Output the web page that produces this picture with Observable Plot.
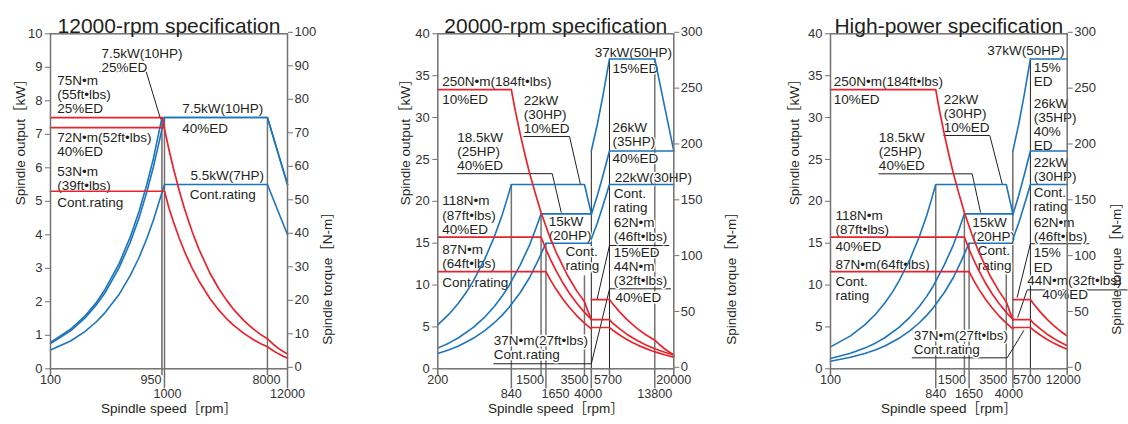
<!DOCTYPE html>
<html><head><meta charset="utf-8">
<script src="https://cdn.jsdelivr.net/npm/d3@7"></script>
<script src="https://cdn.jsdelivr.net/npm/@observablehq/plot@0.6"></script>
<style>
html,body{margin:0;padding:0;background:#fff}
#row{display:flex;width:1128px;height:424px}
#row svg{display:block;overflow:visible;flex:none}
</style></head><body><div id="row"></div>
<script>
// ---------- Panel 1: 12000-rpm specification ----------
const p1Title = "12000-rpm specification";
const p1Domain = [100, 12000];
const p1OutTicks = [0,1,2,3,4,5,6,7,8,9,10];
const p1TrqTicks = [0,10,20,30,40,50,60,70,80,90,100];
const p1SpeedRow1 = [100, 950, 8000];
const p1SpeedRow2 = [1000, 12000];
// output [kW]
const p1Out25 = [[100,0.79],[150,1.18],[200,1.57],[250,1.96],[300,2.36],[400,3.14],[500,3.93],[600,4.71],[700,5.5],[800,6.28],[950,7.5],[8000,7.5],[12000,5.5]];
const p1Out40 = [[100,0.75],[150,1.13],[200,1.51],[250,1.89],[300,2.26],[400,3.02],[500,3.77],[600,4.52],[700,5.28],[800,6.03],[900,6.79],[1000,7.5],[8000,7.5],[12000,5.5]];
const p1OutCont = [[100,0.56],[150,0.83],[200,1.11],[250,1.39],[300,1.67],[400,2.22],[500,2.78],[600,3.33],[700,3.89],[800,4.44],[900,5.0],[1000,5.5],[8000,5.5],[12000,4.0]];
// torque [N-m]
const p1Trq25 = [[100,75],[950,75],[1000,71.6],[1100,65.1],[1200,59.7],[1350,53.1],[1500,47.7],[1750,40.9],[2000,35.8],[2500,28.6],[3000,23.9],[3500,20.5],[4000,17.9],[5000,14.3],[6000,11.9],[7000,10.2],[8000,8.95],[9000,7.34],[10000,6.11],[11000,5.15],[12000,4.4]];
const p1Trq40 = [[100,72],[1000,72]];
const p1TrqCont = [[100,53],[1000,53],[1100,47.7],[1200,43.8],[1350,38.9],[1500,35.0],[1750,30.0],[2000,26.3],[2500,21.0],[3000,17.5],[3500,15.0],[4000,13.1],[5000,10.5],[6000,8.75],[7000,7.5],[8000,6.57],[9000,5.37],[10000,4.46],[11000,3.75],[12000,3.18]];
const p1Guides = [[1000,7.5],[8000,7.5]];
const p1DarkGuides = [[950,7.5]];
const p1Leaders = [[[271,8.87],[691,8.87],[923,7.46]]];
const p1Labels = [
  ["7.5kW(10HP)\n25%ED",280,9.20],
  ["75N•m\n(55ft•lbs)\n25%ED",114.5,8.19],
  ["72N•m(52ft•lbs)\n40%ED",114.5,6.69],
  ["53N•m\n(39ft•lbs)",114.5,5.68],["Cont.rating",114.5,4.97],
  ["7.5kW(10HP)",1430,7.76],["40%ED",1430,7.18],
  ["5.5kW(7HP)",1691,5.77],["Cont.rating",1668,5.19]
];

// ---------- Panel 2: 20000-rpm specification ----------
const p2Title = "20000-rpm specification";
const p2Domain = [200, 20000];
const p2OutTicks = [0,5,10,15,20,25,30,35,40];
const p2TrqTicks = [0,50,100,150,200,250,300];
const p2SpeedRow1 = [200, 1500, 3500, 5700, 20000];
const p2SpeedRow2 = [840, 1650, 4000, 13800];
const p2Out10 = [[200,5.24],[250,6.55],[300,7.85],[350,9.16],[400,10.5],[500,13.1],[600,15.7],[700,18.3],[770,20.2],[840,22],[3500,22],[4000,18.5]];
const p2Out40 = [[200,2.47],[250,3.09],[300,3.71],[400,4.94],[500,6.18],[600,7.41],[700,8.65],[800,9.89],[1000,12.4],[1200,14.8],[1350,16.7],[1500,18.5],[4000,18.5]];
const p2OutCont = [[200,1.82],[250,2.28],[300,2.73],[400,3.64],[500,4.56],[600,5.47],[700,6.38],[800,7.29],[1000,9.11],[1200,10.9],[1400,12.8],[1650,15],[4000,15]];
const p2OutHi15 = [[4000,26],[4500,29.2],[5000,32.5],[5700,37],[13800,37],[20000,26]];
const p2OutHi40 = [[4000,18.4],[4500,20.7],[5000,23],[5700,26],[20000,26]];
const p2OutHiCont = [[4000,15.5],[4500,17.4],[5000,19.4],[5700,22],[20000,22]];
const p2Trq10 = [[200,250],[840,250],[900,233],[1000,210],[1100,191],[1200,175],[1350,156],[1500,140],[1750,120],[2000,105],[2500,84],[3000,70],[3500,60],[3750,51.4],[4000,44.2]];
const p2Trq40 = [[200,118],[1500,118],[1650,107],[1800,98.1],[2000,88.3],[2300,76.8],[2600,67.9],[3000,58.9],[3500,50.5],[4000,44.2]];
const p2TrqCont = [[200,87],[1650,87],[1800,79.6],[2000,71.6],[2300,62.3],[2600,55.1],[3000,47.7],[3500,40.9],[4000,35.8]];
const p2TrqHi15 = [[4000,62],[5700,62],[6000,58.9],[7000,50.5],[8000,44.2],[9000,39.3],[10000,35.3],[11500,30.7],[13800,25.6],[15000,22.0],[17000,17.3],[20000,12.4]];
const p2TrqHi40 = [[4000,44],[5700,44],[6000,41.4],[7000,35.5],[8000,31],[9000,27.6],[10000,24.8],[11500,21.6],[13000,19.1],[15000,16.6],[17000,14.6],[20000,12.4]];
const p2TrqHiCont = [[4000,37],[5700,37],[6000,35],[7000,30],[8000,26.3],[9000,23.3],[10000,21],[11500,18.3],[13000,16.2],[15000,14],[17000,12.4],[20000,10.5]];
const p2Guides = [[840,22],[1500,18.5],[1650,15],[3500,11.1],[13800,37]];
const p2DarkGuides = [[4000,26],[5700,37]];
const p2Leaders = [
  [[1071,27.74],[2613,27.74],[3239,22.0]],
  [[292,23.3],[1865,23.3],[2223,18.7]],
  [[18141,14.72],[5700,14.72],[4485,8.36]],
  [[5700,9.55],[18760,9.55]],
  [[596,0.6],[4000,0.6],[5700,9.5]]
];
const p2Labels = [
  ["250N•m(184ft•lbs)",218,34.3],["10%ED",218,32.12],
  ["22kW\n(30HP)\n10%ED",1071,30.37],
  ["18.5kW\n(25HP)\n40%ED",292,25.93],
  ["118N•m\n(87ft•lbs)\n40%ED",218,18.36],
  ["87N•m\n(64ft•lbs)",218,13.4],["Cont.rating",218,10.34],
  ["15kW\n(20HP)",1745,16.71],["Cont.\nrating",2416,13.2],
  ["37kW(50HP)",4282,37.8],["15%ED",6050,35.89],
  ["26kW\n(35HP)",6050,27.96],["40%ED",6050,25.07],
  ["22kW(30HP)",6325,22.88],["Cont.\nrating",6199,20.1],
  ["62N•m\n(46ft•lbs)",6199,16.6],["15%ED",6199,13.92],
  ["44N•m\n(32ft•lbs)",6199,11.35],["40%ED",6413,8.55],
  ["37N•m(27ft•lbs)\nCont.rating",596,2.55]
];

// ---------- Panel 3: High-power specification ----------
const p3Title = "High-power specification";
const p3Domain = [100, 12000];
const p3OutTicks = [0,5,10,15,20,25,30,35,40];
const p3TrqTicks = [0,50,100,150,200,250,300];
const p3SpeedRow1 = [100, 1500, 3500, 5700, 12000];
const p3SpeedRow2 = [840, 1650, 4000];
const p3Out10 = [[100,2.62],[150,3.93],[200,5.24],[250,6.55],[300,7.85],[350,9.16],[400,10.5],[500,13.1],[600,15.7],[700,18.3],[770,20.2],[840,22],[3500,22],[4000,18.5]];
const p3Out40 = [[100,1.24],[150,1.85],[200,2.47],[250,3.09],[300,3.71],[400,4.94],[500,6.18],[600,7.41],[700,8.65],[800,9.89],[1000,12.4],[1200,14.8],[1350,16.7],[1500,18.5],[4000,18.5]];
const p3OutCont = [[100,0.91],[150,1.37],[200,1.82],[250,2.28],[300,2.73],[400,3.64],[500,4.56],[600,5.47],[700,6.38],[800,7.29],[1000,9.11],[1200,10.9],[1400,12.8],[1650,15],[4000,15]];
const p3OutHi15 = [[4000,26],[4500,29.2],[5000,32.5],[5700,37],[12000,37]];
const p3OutHi40 = [[4000,18.4],[4500,20.7],[5000,23],[5700,26],[12000,26]];
const p3OutHiCont = [[4000,15.5],[4500,17.4],[5000,19.4],[5700,22],[12000,22]];
const p3Trq10 = [[100,250],[840,250],[900,233],[1000,210],[1100,191],[1200,175],[1350,156],[1500,140],[1750,120],[2000,105],[2500,84],[3000,70],[3500,60],[3750,51.4],[4000,44.2]];
const p3Trq40 = [[100,118],[1500,118],[1650,107],[1800,98.1],[2000,88.3],[2300,76.8],[2600,67.9],[3000,58.9],[3500,50.5],[4000,44.2]];
const p3TrqCont = [[100,87],[1650,87],[1800,79.6],[2000,71.6],[2300,62.3],[2600,55.1],[3000,47.7],[3500,40.9],[4000,35.8]];
const p3TrqHi15 = [[4000,62],[5700,62],[6000,58.9],[7000,50.5],[8000,44.2],[9000,39.3],[10000,35.3],[11000,32.1],[12000,29.4]];
const p3TrqHi40 = [[4000,44],[5700,44],[6000,41.4],[7000,35.5],[8000,31],[9000,27.6],[10000,24.8],[11000,22.6],[12000,20.7]];
const p3TrqHiCont = [[4000,37],[5700,37],[6000,35],[7000,30],[8000,26.3],[9000,23.3],[10000,21],[11000,19.1],[12000,17.5]];
const p3Guides = [[840,22],[1500,18.5],[1650,15],[3500,11.5]];
const p3DarkGuides = [[4000,26],[5700,37]];
const p3Leaders = [
  [[989,27.86],[2507,27.86],[3223,22.09]],
  [[266,23.28],[1756,23.28],[2078,18.7]],
  [[18573,14.93],[5700,14.93],[4365,8.55]],
  [[40380,9.42],[5343,9.42],[4418,6.16]],
  [[522,1.31],[3566,1.31],[4989,4.57]]
];
const p3Labels = [
  ["250N•m(184ft•lbs)",107,34.3],["10%ED",107,32.16],
  ["22kW\n(30HP)\n10%ED",989,30.45],
  ["18.5kW\n(25HP)\n40%ED",266,25.96],
  ["118N•m\n(87ft•lbs)",110.6,17.51],["40%ED",110.6,14.6],
  ["87N•m(64ft•lbs)",110.6,12.45],["Cont.\nrating",110.6,9.55],
  ["15kW\n(20HP)",1756,16.67],["Cont.\nrating",1969,13.23],
  ["37kW(50HP)",2379,38.0],["15%\nED",6107,35.12],
  ["26kW\n(35HP)\n40%\nED",6107,29.19],
  ["22kW\n(30HP)",6107,23.82],["Cont.\nrating",6107,20.26],
  ["62N•m\n(46ft•lbs)",6107,16.68],["15%\nED",6107,12.99],
  ["44N•m(32ft•lbs)\n\u00a0\u00a0\u00a0\u00a040%ED",5343,9.75],
  ["37N•m(27ft•lbs)\nCont.rating",539,3.14]
];

const xLabel = "Spindle speed［rpm］";
const yLeftLabel = "Spindle output［kW］";
const yRightLabel = "Spindle torque［N-m］";

// ---------- drawing ----------
const FONT = '"Liberation Sans", Arial, "Noto Sans CJK JP", sans-serif';
const BLUE = "#1b74bc", RED = "#e8232b", GRAY = "#727272", INK = "#231f20";

function tickLabels(ticks, shifts, dy) {
  return ticks.map((t, i) => Plot.text([t], {x: d => d, text: d => String(d), frameAnchor: "bottom",
    dx: shifts[i], dy, fontSize: 12.6, fill: "#333"}));
}

function panel(c) {
  const X = d => d[0];
  const fmt = d => String(d);
  return Plot.plot({
    width: 376, height: 424,
    marginLeft: c.ml, marginRight: c.mr, marginTop: 33.3, marginBottom: 55.7,
    x: {type: "log", domain: c.domain, axis: null},
    y: {domain: [0, c.yMax]},
    style: {fontFamily: FONT, background: "white", overflow: "visible"},
    marks: [
      Plot.ruleX(c.guides, {x: X, y1: d => d[1], y2: 0, stroke: GRAY, strokeWidth: 1.5}),
      Plot.ruleX(c.darkGuides, {x: X, y1: d => d[1], y2: 0, stroke: INK, strokeWidth: 1}),
      Plot.ruleX(c.row1, {x: d => d, y1: 0, y2: 0, insetBottom: -7, stroke: GRAY, strokeWidth: 1.5}),
      Plot.ruleX(c.row2, {x: d => d, y1: 0, y2: 0, insetBottom: -20, stroke: GRAY, strokeWidth: 1.5}),
      ...c.leaders.map(l => Plot.line(l, {x: X, y: d => d[1], stroke: INK, strokeWidth: 1})),
      Plot.text(c.labels, {x: d => d[1], y: d => d[2], text: d => d[0], textAnchor: "start", lineAnchor: "middle",
        lineHeight: 1.04, fontSize: 13.5, fill: INK, stroke: "white", strokeWidth: 3, paintOrder: "stroke"}),
      ...c.power.map(s => Plot.line(s, {x: X, y: d => d[1], stroke: BLUE, strokeWidth: 1.6})),
      ...c.torque.map(s => Plot.line(s, {x: X, y: d => d[1] / c.ratio, stroke: RED, strokeWidth: 1.7})),
      Plot.frame({stroke: GRAY, strokeWidth: 1.5}),
      Plot.axisY({ticks: c.outTicks, anchor: "left", tickSize: 5, tickPadding: 3, fontSize: 13, label: null, stroke: GRAY, fill: "#333", tickFormat: fmt}),
      Plot.axisY({ticks: c.trqTicks.map(t => t / c.ratio), anchor: "right", tickSize: 5, tickPadding: 2, fontSize: 13, label: null, stroke: GRAY, fill: "#333",
        dy: -1.5, tickFormat: d => String(Math.round(d * c.ratio))}),
      ...tickLabels(c.row1, c.row1Dx, 15.5),
      ...tickLabels(c.row2, c.row2Dx, 29),
      Plot.text([c.title], {frameAnchor: "top", dy: -16, fontSize: 21, fill: INK}),
      Plot.text([xLabel], {frameAnchor: "bottom", dy: 44.5, fontSize: 13.5, fill: INK}),
      Plot.text([yLeftLabel], {frameAnchor: "left", dx: c.ldx, dy: 4, rotate: -90, fontSize: 13.5, fill: INK}),
      Plot.text([yRightLabel], {frameAnchor: "right", dx: c.rdx, dy: c.rdy, rotate: -90, fontSize: 13.5, fill: INK})
    ]
  });
}

const row = document.getElementById("row");
row.append(panel({
  title: p1Title, domain: p1Domain, yMax: 10, ratio: 10, ml: 50, mr: 89,
  outTicks: p1OutTicks, trqTicks: p1TrqTicks, row1: p1SpeedRow1, row2: p1SpeedRow2,
  row1Dx: [0, -11, -1], row2Dx: [3, 0],
  power: [p1Out25, p1Out40, p1OutCont], torque: [p1Trq25, p1Trq40, p1TrqCont],
  guides: p1Guides, darkGuides: p1DarkGuides, leaders: p1Leaders, labels: p1Labels,
  ldx: -30, rdx: 40, rdy: 4
}));
row.append(panel({
  title: p2Title, domain: p2Domain, yMax: 40, ratio: 7.5, ml: 61.3, mr: 78.7,
  outTicks: p2OutTicks, trqTicks: p2TrqTicks, row1: p2SpeedRow1, row2: p2SpeedRow2,
  row1Dx: [0, -11, -10, -1.5, 0], row2Dx: [0, 9.5, -3, 0],
  power: [p2Out10, p2Out40, p2OutCont, p2OutHi15, p2OutHi40, p2OutHiCont],
  torque: [p2Trq10, p2Trq40, p2TrqCont, p2TrqHi15, p2TrqHi40, p2TrqHiCont],
  guides: p2Guides, darkGuides: p2DarkGuides, leaders: p2Leaders, labels: p2Labels,
  ldx: -32, rdx: 58, rdy: 4
}));
row.append(panel({
  title: p3Title, domain: p3Domain, yMax: 40, ratio: 7.5, ml: 78, mr: 61.3,
  outTicks: p3OutTicks, trqTicks: p3TrqTicks, row1: p3SpeedRow1, row2: p3SpeedRow2,
  row1Dx: [0, -12.5, -13, -3.5, -4], row2Dx: [0, 0, -4],
  power: [p3Out10, p3Out40, p3OutCont, p3OutHi15, p3OutHi40, p3OutHiCont],
  torque: [p3Trq10, p3Trq40, p3TrqCont, p3TrqHi15, p3TrqHi40, p3TrqHiCont],
  guides: p3Guides, darkGuides: p3DarkGuides, leaders: p3Leaders, labels: p3Labels,
  ldx: -36, rdx: 49, rdy: -6
}));
</script></body></html>
